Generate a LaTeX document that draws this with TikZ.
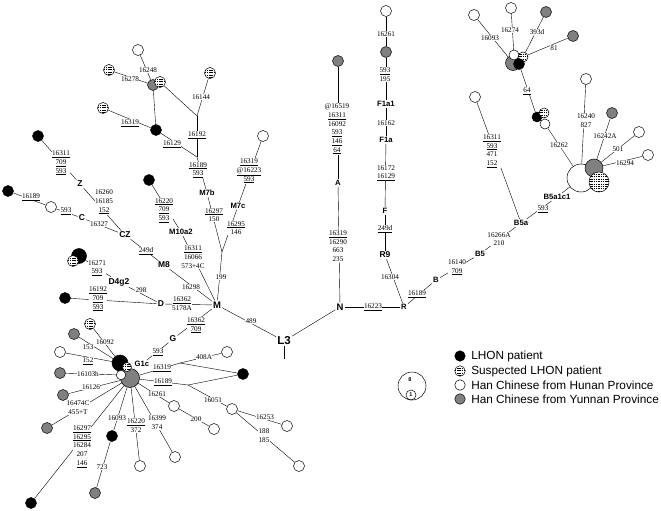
\documentclass[tikz,border=0pt]{standalone}
\usepackage{fontspec}
\setmainfont{Liberation Serif}
\setsansfont{Liberation Sans}
\usetikzlibrary{backgrounds}
\definecolor{hgray}{RGB}{128,128,128}
\newcommand{\myu}[1]{\underline{#1}}
\begin{document}
\begin{tikzpicture}[x=1pt,y=-1pt,line width=0.5pt,
  cw/.style={circle,draw,fill=white,inner sep=0pt,minimum size=11pt,line width=0.5pt},
  cb/.style={cw,fill=black},
  cg/.style={cw,fill=hgray},
  ch/.style={cw,path picture={
     \foreach \hy in {-9,-6.6,...,9} {\draw[line width=0.35pt,dash pattern=on 1.5pt off 0.8pt]
       ([yshift=\hy pt]path picture bounding box.west) -- ([yshift=\hy pt]path picture bounding box.east);}}},
  mut/.style={font=\fontsize{7.2}{8.7}\selectfont,fill=white,inner sep=0.4pt,align=center},
  hg/.style={font=\sffamily\bfseries\fontsize{7.7}{9}\selectfont,inner sep=1pt},
  hgb/.style={font=\sffamily\bfseries\fontsize{8.5}{10}\selectfont,inner sep=1pt},
  hgm/.style={font=\sffamily\bfseries\fontsize{9.5}{11}\selectfont,inner sep=1pt},
  legt/.style={font=\sffamily\fontsize{11.8}{13}\selectfont,anchor=west,inner sep=0pt}
]
\path[use as bounding box] (0,0) rectangle (661,511);

% ---------- top-left group ----------
\node[cw] (w1) at (138,50) {};
\node[ch] (h1) at (109,70) {};
\node[cg] (g1) at (153,85) {};
\node[ch] (h1b) at (160,82) {};
\node[ch] (h2) at (210,73) {};
\node[ch] (h3) at (103,108) {};
\node[cb] (b1) at (156,130) {};
\coordinate (jt) at (197,116);
\coordinate (jb) at (197,157);
\node[hg] (M7b) at (207,193) {M7b};
\node[hg] (M7c) at (238,206) {M7c};
\coordinate (jm7) at (222,252);
\node[cw] (w2) at (263,136) {};
\node[hgm] (M) at (217,305) {M};
\node[hg] (M10a2) at (181,232) {M10a2};
\node[cb] (b2) at (149,180) {};
\node[hgb] (M8) at (164,265) {M8};
\node[hgb] (CZ) at (125,235) {CZ};
\node[hgb] (Z) at (80,184) {Z};
\node[cb] (b3) at (38,136) {};
\node[hgb] (C) at (82,218) {C};
\node[cw] (w3) at (51,207) {};
\node[cb] (b4) at (8,191) {};
\node[hgb] (D) at (161,304) {D};
\node[hgb] (D4g2) at (119,282) {D4g2};
\node[cb,minimum size=15pt] (b5) at (79,256) {};
\node[ch] (h5) at (73,261) {};
\node[cb] (b6) at (65,298) {};
\node[hgb] (G) at (173,339) {G};
\node[hg] (G1c) at (142,364) {G1c};

% ---------- G1c cluster ----------
\node[cb,minimum size=16pt] (gb) at (120,363) {};
\node[cg,minimum size=19pt] (gg) at (130,378) {};
\node[cw,minimum size=9.5pt] (gw) at (121,375) {};
\node[ch,minimum size=9pt] (gh) at (127,367) {};
\node[ch] (h6) at (90,324) {};
\node[cg] (g6) at (74,334) {};
\node[cw] (w6) at (60,352) {};
\node[cg] (g7) at (60,373) {};
\node[cg] (g8) at (63,395) {};
\node[cg] (g9) at (47,428) {};
\node[cb] (b9) at (31,503) {};
\node[cb] (b10) at (112,436) {};
\node[cg] (g10) at (95,493) {};
\node[cw] (w10) at (140,466) {};
\node[cw] (w11) at (175,457) {};
\node[cw] (w12) at (174,406) {};
\node[cw] (w13) at (214,429) {};
\coordinate (j1) at (180,363);
\coordinate (j2) at (188,385);
\node[cw] (w14) at (227,352) {};
\node[cb] (b14) at (243,374) {};
\node[cw] (w15) at (232,409) {};
\node[cw] (w16) at (287,426) {};
\node[cw] (w17) at (299,466) {};

% ---------- L3, N, R ----------
\node[font=\sffamily\bfseries\fontsize{11.5}{13}\selectfont,inner sep=1pt] (L3) at (284,341) {L3};
\coordinate (l3s) at (284,359);
\node[hgm] (N) at (340,307) {N};
\node[hg] (A) at (338,183) {A};
\node[cg] (gA) at (338,61) {};
\node[hg] (R) at (404,307) {R};
\node[hgb] (R9) at (385,255) {R9};
\node[hg] (F) at (385,211) {F};
\node[hg] (F1a) at (386,140) {F1a};
\node[hg] (F1a1) at (386,104) {F1a1};
\node[cg] (gF) at (386,52) {};
\node[cw] (wF) at (386,11) {};
\node[hg] (B) at (436,280) {B};
\node[hg] (B5) at (480,254) {B5};
\node[hg] (B5a) at (521,223) {B5a};
\node[cw] (wB) at (475,97) {};
\node[hg] (B5a1c1) at (557,197) {B5a1c1};
\node[cw,minimum size=28pt] (bigw) at (581,178) {};
\node[cg,minimum size=18pt] (bigg) at (594,168) {};
\node[ch,minimum size=20pt] (bigh) at (599,182) {};
\node[cw] (w20) at (586,79) {};
\node[cg] (g20) at (612,113) {};
\node[cw] (w21) at (639,132) {};
\node[cw] (w22) at (648,155) {};
\node[cb,minimum size=10pt] (c2b) at (537,117) {};
\node[cw,minimum size=10pt] (c2w) at (545,124) {};
\node[ch,minimum size=10pt] (c2h) at (544,113) {};
\node[cg,minimum size=15pt] (c1g) at (513,63) {};
\node[cw,minimum size=10pt] (c1w) at (514,55) {};
\node[ch,minimum size=10pt] (c1h) at (523,57) {};
\node[cb,minimum size=11pt] (c1b) at (519,64) {};
\node[cw] (w23) at (474,15) {};
\node[cw] (w24) at (511,8) {};
\node[cg] (g24) at (546,12) {};
\node[cg] (g25) at (573,36) {};

% ---------- connectors ----------
\begin{scope}[on background layer]
\draw (w1) -- (g1);
\draw (h1) -- (g1);
\draw (g1) -- (b1);
\draw (h3) -- (b1);
\draw (h1b) -- (jt);
\draw (h2) -- (jt);
\draw (jt) -- (jb);
\draw (b1) -- (jb);
\draw (jb) -- (M7b);
\draw (M7b) -- (jm7);
\draw (M7c) -- (jm7);
\draw (jm7) -- (M);
\draw (w2) -- (M7c);
\draw (M) -- (M10a2);
\draw (M10a2) -- (b2);
\draw (M) -- (M8);
\draw (M8) -- (CZ);
\draw (CZ) -- (Z);
\draw (Z) -- (b3);
\draw (CZ) -- (C);
\draw (C) -- (w3);
\draw (w3) -- (b4);
\draw (M) -- (D);
\draw (D) -- (D4g2);
\draw (D4g2) -- (b5);
\draw (D) -- (b6);
\draw (M) -- (G);
\draw (G) -- (G1c);
\draw (L3) -- (M);
\draw (L3) -- (N);
\draw (L3) -- (l3s);
\draw (gg) -- (j1);
\draw (j1) -- (w14);
\draw (j1) -- (b14);
\draw (gg) -- (j2);
\draw (j2) -- (b14);
\draw (j2) -- (w15);
\draw (w15) -- (w16);
\draw (w15) -- (w17);
\draw (gg) -- (w12);
\draw (w12) -- (w13);
\draw (gg) -- (w11);
\draw (gg) -- (w10);
\draw (gg) -- (b10);
\draw (b10) -- (g10);
\draw (gg) -- (b9);
\draw (gg) -- (g9);
\draw (gg) -- (g8);
\draw (gw) -- (g7);
\draw (gb) -- (w6);
\draw (gb) -- (g6);
\draw (gb) -- (h6);
\draw (N) -- (A);
\draw (A) -- (gA);
\draw (N) -- (R);
\draw (R) -- (R9);
\draw (R9) -- (F);
\draw (F) -- (F1a);
\draw (F1a) -- (F1a1);
\draw (F1a1) -- (gF);
\draw (gF) -- (wF);
\draw (R) -- (B);
\draw (B) -- (B5);
\draw (B5) -- (B5a);
\draw (B5a) -- (wB);
\draw (B5a) -- (B5a1c1);
\draw (B5a1c1) -- (bigw);
\draw (bigw) -- (w20);
\draw (bigw) -- (c2w);
\draw (bigg) -- (g20);
\draw (bigg) -- (w21);
\draw (bigg) -- (w22);
\draw (c2b) -- (c1b);
\draw (c1g) -- (w23);
\draw (c1w) -- (w24);
\draw (c1h) -- (g24);
\draw (c1h) -- (g25);
\end{scope}

% ---------- mutation labels ----------
\node[mut] (m1) at (148,70) {16248};
\node[mut] (m2) at (130,79) {16278};
\node[mut] (m3) at (201,97) {16144};
\node[mut] (m4) at (130,123) {\myu{16319}};
\node[mut] (m5) at (172,144) {\myu{16129}};
\node[mut] (m6) at (197,135) {\myu{16192}};
\node[mut] (m7) at (198,170) {\myu{16189}\\\myu{593}};
\node[mut] (m8) at (214,215) {\myu{16297}\\150};
\node[mut] (m9) at (236,228) {\myu{16295}\\146};
\node[mut] (m10) at (221,277) {199};
\node[mut] (m11) at (249,171) {\myu{16319}\\\myu{@16223}\\\myu{593}};
\node[mut] (m12) at (164,210.5) {\myu{16220}\\\myu{709}\\\myu{593}};
\node[mut] (m13) at (193,257) {\myu{16311}\\16066\\573+4C};
\node[mut] (m14) at (191,287) {16298};
\node[mut] (m15) at (146,251) {\myu{249d}};
\node[mut] (m16) at (104,202) {16260\\16185\\\myu{152}};
\node[mut] (m17) at (61,163) {\myu{16311}\\\myu{709}\\\myu{593}};
\node[mut] (m18) at (99,224) {16327};
\node[mut] (m19) at (66,211) {\myu{593}};
\node[mut] (m20) at (31,197) {\myu{16189}};
\node[mut] (m21) at (97,268) {16271\\\myu{593}};
\node[mut] (m22) at (141,290) {298};
\node[mut] (m23) at (98,299) {\myu{16192}\\\myu{709}\\\myu{593}};
\node[mut] (m24) at (182,303.5) {\myu{16362}\\5178A};
\node[mut] (m25) at (196,325.5) {\myu{16362}\\\myu{709}};
\node[mut] (m26) at (251,321) {489};
\node[mut] (m27) at (158,352) {\myu{593}};
\node[mut] (m28) at (105,342) {16092};
\node[mut] (m29) at (88,347) {153};
\node[mut] (m30) at (88,361) {\myu{152}};
\node[mut] (m31) at (88,374) {16103h};
\node[mut] (m32) at (91,387) {16126};
\node[mut] (m33) at (78,407.5) {16474C\\455+T};
\node[mut] (m34) at (82,446.5) {\myu{16297}\\\myu{16295}\\16284\\207\\\myu{146}};
\node[mut] (m35) at (117,418) {16093};
\node[mut] (m36) at (102,467) {723};
\node[mut] (m37) at (136,425.5) {\myu{16220}\\372};
\node[mut] (m38) at (157,422.5) {16399\\374};
\node[mut] (m39) at (157,394) {16261};
\node[mut] (m40) at (196,419) {200};
\node[mut] (m41) at (162,368) {\myu{16319}};
\node[mut] (m42) at (163,382) {\myu{16189}};
\node[mut] (m43) at (204,357) {408A};
\node[mut] (m44) at (213,400) {16051};
\node[mut] (m45) at (265,417) {16253};
\node[mut] (m46) at (264,435.5) {188\\185};
\node[mut] (m47) at (337,129) {@16519\\\myu{16311}\\16092\\\myu{593}\\\myu{146}\\\myu{64}};
\node[mut] (m48) at (338,246) {\myu{16319}\\16290\\663\\235};
\node[mut] (m49) at (373,307) {\myu{16223}};
\node[mut] (m50) at (386,34) {16261};
\node[mut] (m51) at (385,74.5) {\myu{593}\\195};
\node[mut] (m52) at (386,123) {16162};
\node[mut] (m53) at (386,173) {16172\\\myu{16129}};
\node[mut] (m54) at (385,229) {\myu{249d}};
\node[mut] (m55) at (390,277) {16304};
\node[mut] (m56) at (417,294) {\myu{16189}};
\node[mut] (m57) at (457,267.5) {16140\\\myu{709}};
\node[mut] (m58) at (499,239) {16266A\\210};
\node[mut] (m59) at (543,209) {\myu{593}};
\node[mut] (m60) at (492,151) {\myu{16311}\\\myu{593}\\471\\\myu{152}};
\node[mut] (m61) at (559,145) {16262};
\node[mut] (m62) at (586,120.5) {16240\\827};
\node[mut] (m63) at (605,136) {16242A};
\node[mut] (m64) at (618,149) {501};
\node[mut] (m65) at (625,163) {16294};
\node[mut] (m66) at (527,91) {\myu{64}};
\node[mut] (m67) at (490,38) {16093};
\node[mut] (m68) at (510,30) {16274};
\node[mut] (m69) at (537,32) {393d};
\node[mut] (m70) at (554,48) {81};

% ---------- size key ----------
\node[circle,draw,minimum size=28pt,inner sep=0pt] (k8) at (412,386) {};
\node[font=\sffamily\bfseries\fontsize{5.5}{6}\selectfont,inner sep=0pt] (k8t) at (410,380) {8};
\node[circle,draw,minimum size=10pt,inner sep=0pt,font=\sffamily\bfseries\fontsize{5.5}{6}\selectfont] (k1) at (411,395) {1};

% ---------- legend ----------
\node[cb,minimum size=10.5pt] (lb) at (460,356) {};
\node[legt] (lt1) at (471,356) {LHON patient};
\node[ch,minimum size=10.5pt] (lh) at (460,371) {};
\node[legt] (lt2) at (471,371) {Suspected LHON patient};
\node[cw,minimum size=10.5pt] (lw) at (460,385) {};
\node[legt] (lt3) at (471,385) {Han Chinese from Hunan Province};
\node[cg,minimum size=10.5pt] (lg) at (460,399) {};
\node[legt] (lt4) at (471,399) {Han Chinese from Yunnan Province};
\end{tikzpicture}
\end{document}
